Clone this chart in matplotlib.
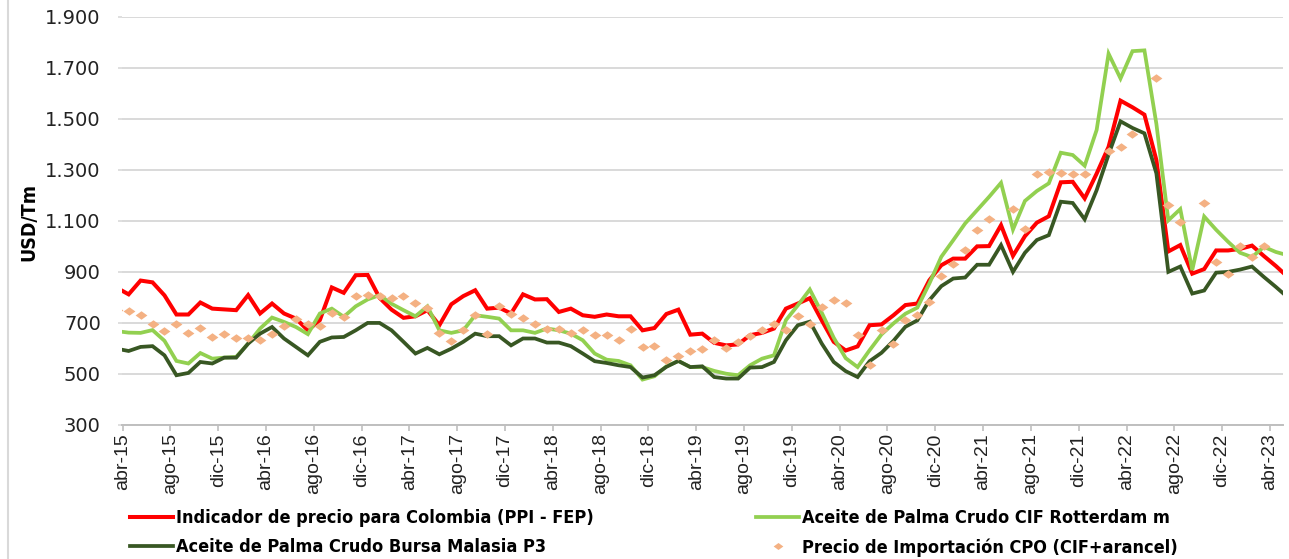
import numpy as np
import matplotlib
matplotlib.use("Agg")
import matplotlib.pyplot as plt
from matplotlib.lines import Line2D
from matplotlib.transforms import ScaledTranslation

# monthly values, USD/Tm (first point sits half a month before abr-15)
ppi = [838, 812, 866, 859, 808, 733, 733, 780, 756, 753,
       750, 809, 737, 776, 737, 717, 671, 711, 839, 818,
       887, 888, 798, 752, 720, 726, 750, 691, 773, 805,
       828, 756, 760, 737, 812, 792, 793, 743, 756, 730,
       724, 733, 726, 726, 671, 680, 735, 752, 654, 658,
       622, 612, 616, 652, 661, 678, 756, 776, 797, 710,
       626, 592, 608, 691, 694, 730, 770, 776, 867, 926,
       952, 952, 1000, 1001, 1083, 963, 1040, 1093, 1118, 1251,
       1253, 1188, 1285, 1390, 1571, 1545, 1516, 1338, 980, 1005,
       893, 911, 984, 984, 990, 1003, 962, 923, 880]

rotterdam = [668, 662, 661, 672, 630, 551, 541, 582, 560, 564,
             567, 619, 678, 721, 704, 684, 656, 737, 756, 724,
             765, 792, 809, 775, 750, 726, 765, 671, 661, 671,
             730, 724, 717, 671, 671, 661, 678, 671, 658, 632,
             580, 556, 551, 534, 478, 491, 530, 551, 527, 527,
             512, 501, 495, 534, 560, 573, 711, 769, 831, 740,
             642, 562, 527, 593, 655, 698, 736, 760, 854, 959,
             1024, 1090, 1142, 1194, 1249, 1066, 1178, 1217, 1247, 1367,
             1358, 1316, 1456, 1755, 1658, 1765, 1768, 1480, 1102, 1146,
             907, 1117, 1065, 1018, 975, 958, 998, 978, 965]

malasia = [599, 590, 606, 609, 573, 495, 504, 547, 541, 564,
           564, 619, 658, 684, 639, 606, 573, 626, 643, 645,
           671, 700, 700, 671, 626, 580, 602, 577, 599, 626,
           658, 648, 648, 612, 639, 639, 623, 623, 609, 580,
           550, 543, 534, 527, 486, 495, 528, 551, 527, 530,
           488, 482, 482, 525, 527, 547, 632, 691, 705, 619,
           547, 511, 488, 550, 583, 630, 685, 710, 789, 844,
           874, 878, 928, 928, 1005, 900, 975, 1025, 1044, 1175,
           1170, 1106, 1220, 1360, 1490, 1464, 1443, 1286, 900, 921,
           815, 827, 897, 900, 909, 921, 880, 841, 800]

nan = np.nan
importacion = [752, 747, 733, 694, 669, 694, 660, 680, 645, 656,
               640, 639, 632, 658, 687, 717, 695, 687, 739, 724,
               805, 809, 807, 796, 805, 778, 760, 661, 629, 671,
               730, 658, 765, 734, 721, 695, 678, 678, 661, 671,
               652, 652, 632, 678, 606, 609, 556, 571, 590, 599,
               635, 603, 626, 648, 674, 697, 671, 728, 697, 764,
               790, 780, 652, 536, 674, 618, 713, 730, 782, 883,
               930, 986, 1064, 1109, nan, 1147, 1070, 1283, 1292, 1288,
               1283, 1283, nan, 1375, 1388, 1442, nan, 1660, 1162, 1094,
               nan, 1169, 940, 892, 1001, 960, 1001, nan, nan]

tick_labels = ["abr-15", "ago-15", "dic-15", "abr-16", "ago-16", "dic-16",
               "abr-17", "ago-17", "dic-17", "abr-18", "ago-18", "dic-18",
               "abr-19", "ago-19", "dic-19", "abr-20", "ago-20", "dic-20",
               "abr-21", "ago-21", "dic-21", "abr-22", "ago-22", "dic-22",
               "abr-23"]

names = ["Indicador de precio para Colombia (PPI - FEP)",
         "Aceite de Palma Crudo CIF Rotterdam m",
         "Aceite de Palma Crudo Bursa Malasia P3",
         "Precio de Importación CPO (CIF+arancel)"]

RED = "#ff0000"
LGREEN = "#92d050"
DGREEN = "#385723"
PEACH = "#f4b183"
GRID = "#d9d9d9"

W, H = 1289, 559
fig = plt.figure(figsize=(W / 100, H / 100), dpi=100)
ax = fig.add_axes([121.7 / W, 1 - 425 / H, (1282.7 - 121.7) / W, (425 - 16.7) / H])

x = np.arange(len(ppi)) - 0.5
diamond = [(-1, 0), (0, 0.72), (1, 0), (0, -0.72), (-1, 0)]

ax.plot(x, ppi, color=RED, lw=2.9, zorder=3, solid_joinstyle="miter")
ax.plot(x, rotterdam, color=LGREEN, lw=2.7, zorder=4, solid_joinstyle="miter")
ax.plot(x, malasia, color=DGREEN, lw=2.7, zorder=5, solid_joinstyle="miter")
ax.plot(x, importacion, ls="none", marker=diamond, ms=8.5, color=PEACH,
        mec=PEACH, mew=0, zorder=6)

ax.set_xlim(-0.08, 97.07)
ax.set_ylim(300, 1900)
ax.set_yticks(np.arange(300, 1901, 200))
ax.set_yticklabels([f"{v:,}".replace(",", ".") for v in range(300, 1901, 200)],
                   fontsize=14, color="#222222")
ax.yaxis.grid(True, color=GRID, lw=1.4)
ax.set_axisbelow(True)

ax.set_xticks(np.arange(0, 97, 4))
ax.set_xticklabels(tick_labels, rotation=90, fontsize=14,
                   family=["Liberation Sans", "DejaVu Sans"], color="#222222")
off = ScaledTranslation(5 / 100, 0, fig.dpi_scale_trans)
for lab in ax.get_xticklabels():
    lab.set_transform(lab.get_transform() + off)

for s in ["top", "right", "left"]:
    ax.spines[s].set_visible(False)
ax.spines["bottom"].set_color("#bfbfbf")
ax.spines["bottom"].set_linewidth(1.4)
ax.tick_params(axis="x", length=4, width=1.2, color="#bfbfbf", pad=2)
ax.tick_params(axis="y", length=3, width=1.2, color=GRID, pad=12)

ax.set_ylabel("USD/Tm", family="DejaVu Sans", fontstretch="condensed",
              fontweight="bold", fontsize=14)
ax.yaxis.set_label_coords(-(121.7 - 38) / (1282.7 - 121.7), (425 - 222) / (425 - 16.7))

h_red = Line2D([], [], color=RED, lw=2.9)
h_lg = Line2D([], [], color=LGREEN, lw=2.7)
h_dg = Line2D([], [], color=DGREEN, lw=2.7)
h_imp = Line2D([], [], ls="none", marker=diamond, ms=7, color=PEACH, mew=0)

leg_kw = dict(loc="upper left", frameon=False, borderpad=0, borderaxespad=0,
              handlelength=2.4, handletextpad=0.15, labelspacing=0.62,
              prop={"family": "DejaVu Sans", "stretch": "condensed",
                    "weight": "bold", "size": 13})
leg1 = fig.legend([h_red, h_dg], [names[0], names[2]],
                  bbox_to_anchor=(130 / W, 1 - 509 / H), **leg_kw)
leg2 = fig.legend([h_lg, h_imp], [names[1], names[3]],
                  bbox_to_anchor=(756 / W, 1 - 509 / H), **leg_kw)

fig.add_artist(Line2D([8 / W, 8 / W], [0, 1], color=GRID, lw=1.5,
                      transform=fig.transFigure))

fig.savefig("out.png", dpi=100)
